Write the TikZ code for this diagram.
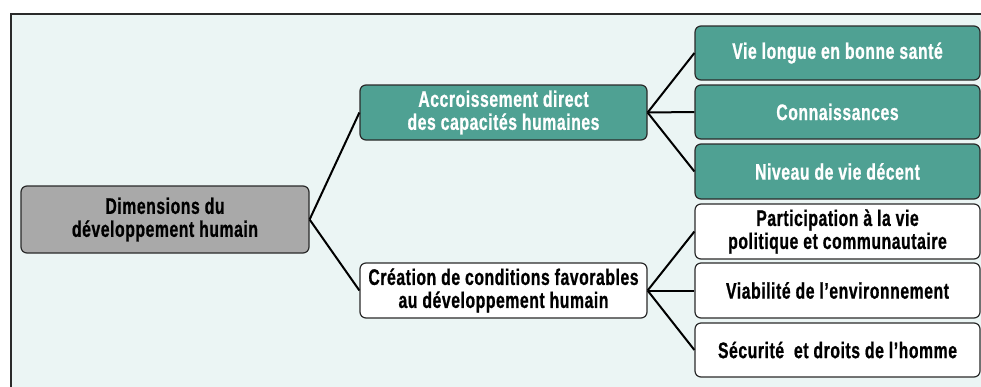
\documentclass[tikz,border=0pt]{standalone}
\usepackage{fontspec}
\setmainfont{Liberation Sans}[FakeStretch=0.70, FakeBold=0.8, LetterSpace=2.5]
\definecolor{bgmint}{HTML}{EBF5F4}
\definecolor{tealbox}{HTML}{4FA193}
\definecolor{graybox}{HTML}{A9A9A9}
\definecolor{edge}{HTML}{2A2A2A}
\begin{document}
\begin{tikzpicture}[x=1pt,y=-1pt,
  box/.style={draw=edge, line width=1.2pt, rounded corners=6pt, align=center,
    inner sep=0pt, font=\bfseries\fontsize{22.5}{23}\selectfont},
  tealnode/.style={box, fill=tealbox, text=white},
  whitenode/.style={box, fill=white, text=black},
  graynode/.style={box, fill=graybox, text=black},
  link/.style={draw=black, line width=2pt}]
\useasboundingbox (0,0) rectangle (981,386);
\begin{scope}
\clip (0,0) rectangle (981,386);
\fill[bgmint] (11,14) rectangle (990,395);
\draw[edge, line width=1.5pt] (11,395) -- (11,14) -- (990,14);
\end{scope}
\node[graynode, minimum width=288pt, minimum height=67pt] (root) at (165,219.5) {Dimensions du\\développement humain};
\node[tealnode, minimum width=287pt, minimum height=55pt] (acc) at (503.5,112.5) {Accroissement direct\\des capacités humaines};
\node[whitenode, minimum width=287pt, minimum height=55pt] (cre) at (503.5,290.5) {Création de conditions favorables\\au développement humain};
\node[tealnode, minimum width=285pt, minimum height=54pt] (r1) at (837.5,53) {Vie longue en bonne santé};
\node[tealnode, minimum width=285pt, minimum height=54pt] (r2) at (837.5,112) {Connaissances};
\node[tealnode, minimum width=285pt, minimum height=55pt] (r3) at (837.5,171.5) {Niveau de vie décent};
\node[whitenode, minimum width=285pt, minimum height=55pt] (r4) at (837.5,231.5) {Participation à la vie\\politique et communautaire};
\node[whitenode, minimum width=285pt, minimum height=55pt] (r5) at (837.5,290.5) {Viabilité de l’environnement};
\node[whitenode, minimum width=285pt, minimum height=54pt] (r6) at (837.5,350) {Sécurité\ \ et droits de l’homme};
\draw[link] (root.east) -- (acc.west);
\draw[link] (root.east) -- (cre.west);
\draw[link] (acc.east) -- (r1.west);
\draw[link] (acc.east) -- (r2.west);
\draw[link] (acc.east) -- (r3.west);
\draw[link] (cre.east) -- (r4.west);
\draw[link] (cre.east) -- (r5.west);
\draw[link] (cre.east) -- (r6.west);
\end{tikzpicture}
\end{document}
